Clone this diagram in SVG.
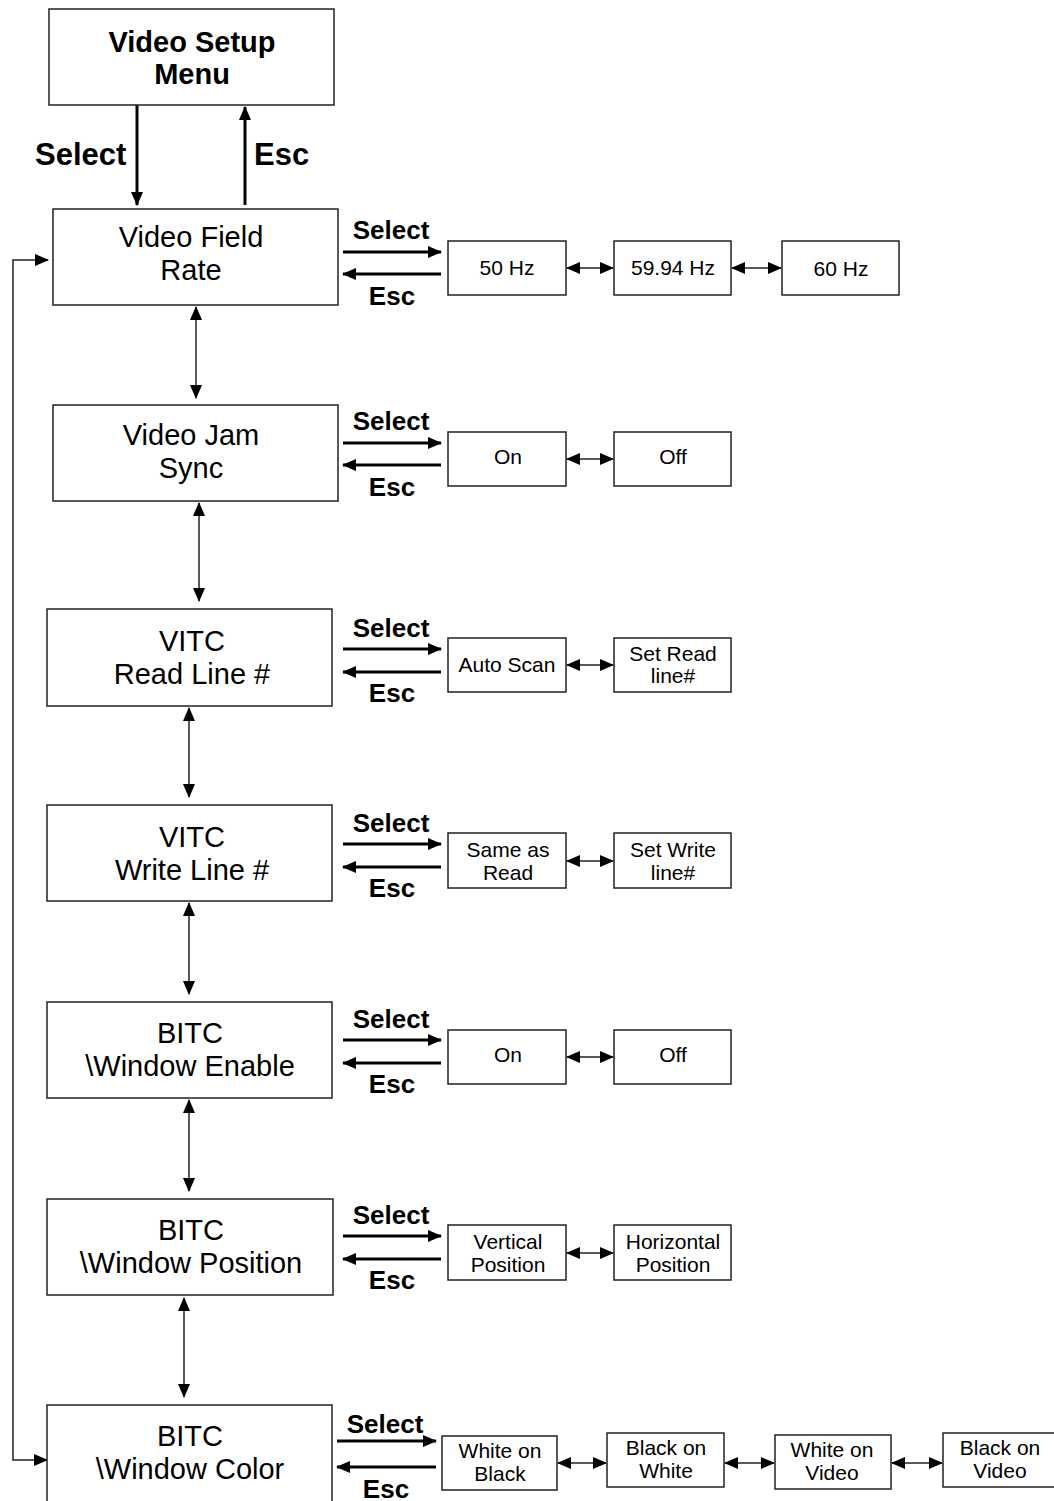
<svg xmlns="http://www.w3.org/2000/svg" width="1054" height="1501" viewBox="0 0 1054 1501">
<style>
.box{fill:#fff;stroke:#222;stroke-width:1.5}
.t{font-family:"Liberation Sans",Arial,sans-serif;font-size:29px;fill:#000;text-anchor:middle}
.tb{font-family:"Liberation Sans",Arial,sans-serif;font-size:29px;font-weight:bold;fill:#000;text-anchor:middle}
.big{font-family:"Liberation Sans",Arial,sans-serif;font-size:31px;font-weight:bold;fill:#000}
.lab{font-family:"Liberation Sans",Arial,sans-serif;font-size:26px;font-weight:bold;fill:#000;text-anchor:middle}
.o{font-family:"Liberation Sans",Arial,sans-serif;font-size:21px;fill:#000;text-anchor:middle}
.thick{stroke:#000;stroke-width:3;fill:none}
.thin{stroke:#222;stroke-width:1.5;fill:none}
</style>
<defs>
<marker id="ah" markerUnits="userSpaceOnUse" markerWidth="14" markerHeight="12" refX="13" refY="6" orient="auto"><path d="M0,0 L14,6 L0,12 z" fill="#000"/></marker>
<marker id="as" markerUnits="userSpaceOnUse" markerWidth="14" markerHeight="12" refX="13" refY="6" orient="auto-start-reverse"><path d="M0,0 L14,6 L0,12 z" fill="#000"/></marker>
</defs>

<g id="connectors">
<line class="thick" x1="137" y1="105" x2="137" y2="205" marker-end="url(#ah)"/>
<line class="thick" x1="245" y1="205" x2="245" y2="107" marker-end="url(#ah)"/>
<text class="big" x="35" y="165">Select</text>
<text class="big" x="254" y="165">Esc</text>

<line class="thin" x1="196" y1="307" x2="196" y2="398" marker-start="url(#as)" marker-end="url(#as)"/>
<line class="thin" x1="199" y1="503" x2="199" y2="601" marker-start="url(#as)" marker-end="url(#as)"/>
<line class="thin" x1="189" y1="708" x2="189" y2="797" marker-start="url(#as)" marker-end="url(#as)"/>
<line class="thin" x1="189" y1="903" x2="189" y2="994" marker-start="url(#as)" marker-end="url(#as)"/>
<line class="thin" x1="189" y1="1100" x2="189" y2="1191" marker-start="url(#as)" marker-end="url(#as)"/>
<line class="thin" x1="184" y1="1298" x2="184" y2="1397" marker-start="url(#as)" marker-end="url(#as)"/>

<path class="thin" d="M47,1460 H13 V260 H48" marker-start="url(#as)" marker-end="url(#as)"/>

<!-- row 1 -->
<text class="lab" x="391" y="239">Select</text>
<line class="thick" x1="343" y1="252" x2="441" y2="252" marker-end="url(#ah)"/>
<line class="thick" x1="441" y1="274" x2="343" y2="274" marker-end="url(#ah)"/>
<text class="lab" x="392" y="305">Esc</text>
<line class="thin" x1="567" y1="268" x2="613" y2="268" marker-start="url(#as)" marker-end="url(#as)"/>
<line class="thin" x1="732" y1="268" x2="781" y2="268" marker-start="url(#as)" marker-end="url(#as)"/>
<!-- row 2 -->
<text class="lab" x="391" y="430">Select</text>
<line class="thick" x1="343" y1="443" x2="441" y2="443" marker-end="url(#ah)"/>
<line class="thick" x1="441" y1="465" x2="343" y2="465" marker-end="url(#ah)"/>
<text class="lab" x="392" y="496">Esc</text>
<line class="thin" x1="567" y1="459" x2="613" y2="459" marker-start="url(#as)" marker-end="url(#as)"/>
<!-- row 3 -->
<text class="lab" x="391" y="637">Select</text>
<line class="thick" x1="343" y1="649" x2="441" y2="649" marker-end="url(#ah)"/>
<line class="thick" x1="441" y1="672" x2="343" y2="672" marker-end="url(#ah)"/>
<text class="lab" x="392" y="702">Esc</text>
<line class="thin" x1="567" y1="665" x2="613" y2="665" marker-start="url(#as)" marker-end="url(#as)"/>
<!-- row 4 -->
<text class="lab" x="391" y="832">Select</text>
<line class="thick" x1="343" y1="844" x2="441" y2="844" marker-end="url(#ah)"/>
<line class="thick" x1="441" y1="867" x2="343" y2="867" marker-end="url(#ah)"/>
<text class="lab" x="392" y="897">Esc</text>
<line class="thin" x1="567" y1="861" x2="613" y2="861" marker-start="url(#as)" marker-end="url(#as)"/>
<!-- row 5 -->
<text class="lab" x="391" y="1028">Select</text>
<line class="thick" x1="343" y1="1040" x2="441" y2="1040" marker-end="url(#ah)"/>
<line class="thick" x1="441" y1="1063" x2="343" y2="1063" marker-end="url(#ah)"/>
<text class="lab" x="392" y="1093">Esc</text>
<line class="thin" x1="567" y1="1057" x2="613" y2="1057" marker-start="url(#as)" marker-end="url(#as)"/>
<!-- row 6 -->
<text class="lab" x="391" y="1224">Select</text>
<line class="thick" x1="343" y1="1236" x2="441" y2="1236" marker-end="url(#ah)"/>
<line class="thick" x1="441" y1="1259" x2="343" y2="1259" marker-end="url(#ah)"/>
<text class="lab" x="392" y="1289">Esc</text>
<line class="thin" x1="567" y1="1253" x2="613" y2="1253" marker-start="url(#as)" marker-end="url(#as)"/>
<!-- row 7 -->
<text class="lab" x="385" y="1433">Select</text>
<line class="thick" x1="337" y1="1441" x2="436" y2="1441" marker-end="url(#ah)"/>
<line class="thick" x1="436" y1="1467" x2="337" y2="1467" marker-end="url(#ah)"/>
<text class="lab" x="386" y="1498">Esc</text>
<line class="thin" x1="558" y1="1463" x2="606" y2="1463" marker-start="url(#as)" marker-end="url(#as)"/>
<line class="thin" x1="725" y1="1463" x2="774" y2="1463" marker-start="url(#as)" marker-end="url(#as)"/>
<line class="thin" x1="892" y1="1463" x2="942" y2="1463" marker-start="url(#as)" marker-end="url(#as)"/>
</g>

<g id="menu"><rect class="box" x="49" y="9" width="285" height="96"/><text class="tb" x="192" y="52">Video Setup</text><text class="tb" x="192" y="84">Menu</text></g>

<g id="n1"><rect class="box" x="53" y="209" width="285" height="96"/><text class="t" x="191" y="247">Video Field</text><text class="t" x="191" y="280">Rate</text></g>
<g id="n1a"><rect class="box" x="448" y="241" width="118" height="54"/><text class="o" x="507" y="275">50 Hz</text></g>
<g id="n1b"><rect class="box" x="614" y="241" width="117" height="54"/><text class="o" x="673" y="275">59.94 Hz</text></g>
<g id="n1c"><rect class="box" x="782" y="241" width="117" height="54"/><text class="o" x="841" y="276">60 Hz</text></g>

<g id="n2"><rect class="box" x="53" y="405" width="285" height="96"/><text class="t" x="191" y="445">Video Jam</text><text class="t" x="191" y="478">Sync</text></g>
<g id="n2a"><rect class="box" x="448" y="432" width="118" height="54"/><text class="o" x="508" y="464">On</text></g>
<g id="n2b"><rect class="box" x="614" y="432" width="117" height="54"/><text class="o" x="673" y="464">Off</text></g>

<g id="n3"><rect class="box" x="47" y="609" width="285" height="97"/><text class="t" x="192" y="651">VITC</text><text class="t" x="192" y="684">Read Line #</text></g>
<g id="n3a"><rect class="box" x="448" y="638" width="118" height="54"/><text class="o" x="507" y="672">Auto Scan</text></g>
<g id="n3b"><rect class="box" x="614" y="638" width="117" height="54"/><text class="o" x="673" y="661">Set Read</text><text class="o" x="673" y="683">line#</text></g>

<g id="n4"><rect class="box" x="47" y="805" width="285" height="96"/><text class="t" x="192" y="847">VITC</text><text class="t" x="192" y="880">Write Line #</text></g>
<g id="n4a"><rect class="box" x="448" y="833" width="118" height="55"/><text class="o" x="508" y="857">Same as</text><text class="o" x="508" y="880">Read</text></g>
<g id="n4b"><rect class="box" x="614" y="833" width="117" height="55"/><text class="o" x="673" y="857">Set Write</text><text class="o" x="673" y="880">line#</text></g>

<g id="n5"><rect class="box" x="47" y="1002" width="285" height="96"/><text class="t" x="190" y="1043">BITC</text><text class="t" x="190" y="1076">\Window Enable</text></g>
<g id="n5a"><rect class="box" x="448" y="1030" width="118" height="54"/><text class="o" x="508" y="1062">On</text></g>
<g id="n5b"><rect class="box" x="614" y="1030" width="117" height="54"/><text class="o" x="673" y="1062">Off</text></g>

<g id="n6"><rect class="box" x="47" y="1199" width="286" height="96"/><text class="t" x="191" y="1240">BITC</text><text class="t" x="191" y="1273">\Window Position</text></g>
<g id="n6a"><rect class="box" x="448" y="1225" width="118" height="55"/><text class="o" x="508" y="1249">Vertical</text><text class="o" x="508" y="1272">Position</text></g>
<g id="n6b"><rect class="box" x="614" y="1225" width="117" height="55"/><text class="o" x="673" y="1249">Horizontal</text><text class="o" x="673" y="1272">Position</text></g>

<g id="n7"><rect class="box" x="47" y="1405" width="285" height="110"/><text class="t" x="190" y="1446">BITC</text><text class="t" x="190" y="1479">\Window Color</text></g>
<g id="n7a"><rect class="box" x="442" y="1436" width="115" height="54"/><text class="o" x="500" y="1458">White on</text><text class="o" x="500" y="1481">Black</text></g>
<g id="n7b"><rect class="box" x="607" y="1433" width="117" height="54"/><text class="o" x="666" y="1455">Black on</text><text class="o" x="666" y="1478">White</text></g>
<g id="n7c"><rect class="box" x="775" y="1435" width="116" height="54"/><text class="o" x="832" y="1457">White on</text><text class="o" x="832" y="1480">Video</text></g>
<g id="n7d"><rect class="box" x="943" y="1433" width="117" height="54"/><text class="o" x="1000" y="1455">Black on</text><text class="o" x="1000" y="1478">Video</text></g>
</svg>
